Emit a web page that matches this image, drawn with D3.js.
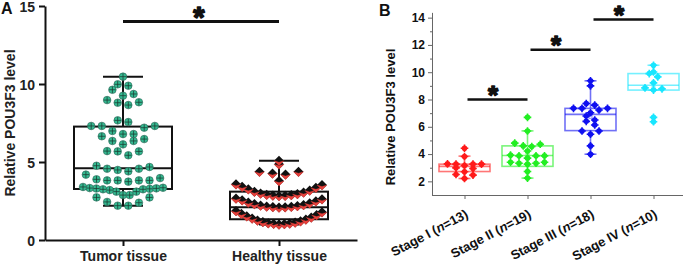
<!DOCTYPE html>
<html>
<head>
<meta charset="utf-8">
<script src="https://cdn.jsdelivr.net/npm/d3@7"></script>
<style>
  body { margin: 0; background: #fff; }
  svg { display: block; font-family: "Liberation Sans", Arial, sans-serif; }
  .lbl { font-weight: bold; fill: #222; }
  .star { font-weight: bold; fill: #111; stroke: #111; stroke-width: 1.5; stroke-linejoin: round; }
</style>
</head>
<body>
<div id="chart"></div>
<script>
// ---- panel A data ----
const groupsA = ['Tumor tissue', 'Healthy tissue'];
const tumorValues = [
  10.47, 9.89, 9.98, 9.25, 9.36, 9.63, 8.65, 8.8, 8.83, 8.97,
  7.2, 7.31, 7.31, 7.31, 7.56, 7.67, 6.65, 6.79, 6.79, 6.99,
  6.13, 6.35, 6.35, 6.47, 5.43, 5.68, 5.68, 5.7,
  4.19, 4.4, 4.49, 4.57, 4.57, 4.68, 4.76,
  3.74, 3.82, 3.82, 3.82, 3.82, 3.89, 3.97,
  2.88, 2.88, 3.1, 3.1, 3.2, 3.25, 3.25, 3.28, 3.3, 3.31, 3.33, 3.35, 3.4,
  2.2, 2.2, 2.39, 2.44, 2.73, 2.73
];
const healthyValues = [
  5.08, 4.85, 4.38, 4.38, 4.27, 4.2, 3.78,
  2.82, 2.83, 2.85, 2.88, 2.9, 2.95, 2.98, 3.05, 3.1, 3.18, 3.25, 3.35, 3.42, 3.52, 3.57,
  2.08, 2.1, 2.11, 2.13, 2.15, 2.18, 2.21, 2.25, 2.3, 2.35, 2.4, 2.48, 2.55, 2.62, 2.66,
  1.0, 1.02, 1.04, 1.06, 1.08, 1.12, 1.15, 1.2, 1.25, 1.32, 1.38, 1.45, 1.52, 1.6, 1.68, 1.78, 1.86
];
const medianA = [4.6, 2.1];
const q1A = [3.27, 1.33];
const q3A = [7.27, 3.1];
const whiskerLowA = [2.2, 1.0];
const whiskerHighA = [10.47, 5.08];
const ticksA = [0, 5, 10, 15];
const sigA = 14;

// ---- panel B data ----
const stageNames = ['Stage I', 'Stage II', 'Stage III', 'Stage IV'];
const stageN = [13, 19, 18, 10];
const stage1 = [4.43, 3.82, 3.26, 2.99, 2.7, 3.28, 2.5, 3.26, 2.21, 3.16, 2.46, 3.26, 2.94];
const stage2 = [6.69, 5.69, 4.72, 4.55, 4.8, 4.6, 4.23, 3.26, 3.87, 3.87, 3.4, 3.33, 3.33, 3.4, 3.7, 3.87, 3.92, 2.72, 2.24];
const stage3 = [9.37, 9.0, 7.71, 7.35, 7.35, 7.23, 7.35, 7.59, 6.79, 7.03, 6.4, 6.5, 6.13, 5.69, 5.69, 5.45, 4.6, 3.99];
const stage4 = [10.51, 10.02, 9.9, 9.66, 9.22, 8.78, 8.69, 8.85, 6.69, 6.37];
const medianB = [3.1, 3.9, 6.91, 9.05];
const q1B = [2.72, 3.1, 5.72, 8.69];
const q3B = [3.26, 4.6, 7.35, 9.9];
const whiskerLowB = [2.21, 2.24, 3.99, 8.69];
const whiskerHighB = [3.85, 5.7, 9.37, 10.51];
const colorsB = ['#ff1a1a', '#22ee22', '#1010f0', '#19e6ff'];
const ticksB = [2, 4, 6, 8, 10, 12, 14];
const sigB = [8.0, 11.65, 13.87];   // bars between neighbouring stages

const W = 685, H = 264;
const svg = d3.select('#chart').append('svg').attr('width', W).attr('height', H);

// arrange points in horizontal rows, lowest value in the middle of each row
function rowLayout(values, center, o) {
  const sorted = values.slice().sort((a, b) => a - b);
  const rows = [];
  let cur = [];
  sorted.forEach(v => {
    if (cur.length && (v - cur[0] > o.span || v - cur[cur.length - 1] > o.gap)) { rows.push(cur); cur = []; }
    cur.push(v);
  });
  if (cur.length) rows.push(cur);
  const out = [];
  rows.forEach(r => {
    const n = r.length;
    const s = n > 1 ? Math.min(o.step, o.maxWidth / (n - 1)) : 0;
    const slots = d3.range(n).map(k => (k - (n - 1) / 2) * s)
      .sort((a, b) => Math.abs(a) - Math.abs(b) || b - a);
    r.forEach((v, i) => out.push({ v: v, x: center + slots[i] }));
  });
  return out;
}

// ================= Panel A =================
const xA = d3.scalePoint().domain(groupsA).range([45, 357]).padding(0.5);
const yA = d3.scaleLinear().domain([0, 15]).range([240, 6]);

const gA = svg.append('g');

// axes
gA.append('g')
  .attr('transform', 'translate(45,0)')
  .call(d3.axisLeft(yA).tickValues(ticksA).tickSize(6).tickSizeOuter(0).tickPadding(4))
  .call(g => g.selectAll('path,line').attr('stroke', '#111').attr('stroke-width', 2))
  .call(g => g.selectAll('text').attr('class', 'lbl').style('font-size', '14px').attr('dy', '0.4em'));

gA.append('g')
  .attr('transform', 'translate(0,240)')
  .call(d3.axisBottom(xA).tickSize(6).tickSizeOuter(0).tickPadding(5))
  .call(g => g.selectAll('path,line').attr('stroke', '#111').attr('stroke-width', 2))
  .call(g => g.selectAll('text').attr('class', 'lbl').style('font-size', '14px'));

gA.append('text').attr('class', 'lbl')
  .attr('transform', 'translate(15,123) rotate(-90)')
  .attr('text-anchor', 'middle').style('font-size', '14px')
  .text('Relative POU3F3 level');

gA.append('text').attr('class', 'lbl').attr('x', 1).attr('y', 14)
  .style('font-size', '16px').style('fill', '#111').text('A');

// boxes
groupsA.forEach((g, i) => {
  const cx = xA(g), bw = 98, cw = 40;
  const b = gA.append('g').attr('stroke', '#111').attr('stroke-width', 2).attr('fill', 'none');
  b.append('line').attr('x1', cx).attr('x2', cx).attr('y1', yA(whiskerHighA[i])).attr('y2', yA(q3A[i]));
  b.append('line').attr('x1', cx).attr('x2', cx).attr('y1', yA(q1A[i])).attr('y2', yA(whiskerLowA[i]));
  b.append('line').attr('x1', cx - cw / 2).attr('x2', cx + cw / 2).attr('y1', yA(whiskerHighA[i])).attr('y2', yA(whiskerHighA[i]));
  b.append('line').attr('x1', cx - cw / 2).attr('x2', cx + cw / 2).attr('y1', yA(whiskerLowA[i])).attr('y2', yA(whiskerLowA[i]));
  b.append('rect').attr('x', cx - bw / 2).attr('width', bw)
    .attr('y', yA(q3A[i])).attr('height', yA(q1A[i]) - yA(q3A[i]));
  b.append('line').attr('x1', cx - bw / 2).attr('x2', cx + bw / 2).attr('y1', yA(medianA[i])).attr('y2', yA(medianA[i]));
});

// tumor points: green circles with a cross
const tumorPts = rowLayout(tumorValues, xA(groupsA[0]), { span: 0.58, gap: 0.3, step: 10.6, maxWidth: 80 });
const tp = gA.selectAll('.tp').data(tumorPts).enter().append('g')
  .attr('transform', d => `translate(${d.x},${yA(d.v)})`);
tp.append('circle').attr('r', 3.8).attr('fill', '#34bb92').attr('stroke', '#2a5e50').attr('stroke-width', 0.6);
tp.append('path').attr('d', 'M-3.3,0H3.3M0,-3.3V3.3').attr('stroke', '#1c3d33').attr('stroke-width', 0.8);

// healthy points: diamonds, black top half, red bottom half
const healthyPts = rowLayout(healthyValues, xA(groupsA[1]), { span: 0.9, gap: 0.14, step: 13, maxWidth: 86 });
const hp = gA.selectAll('.hp').data(healthyPts).enter().append('g')
  .attr('transform', d => `translate(${d.x},${yA(d.v)})`);
hp.append('path').attr('d', 'M0,-5L5,0L0,5L-5,0Z').attr('fill', '#111');
hp.append('path').attr('d', 'M-5,0L0,5L5,0L0,1.5Z').attr('fill', '#e8413c').attr('stroke', '#e8413c').attr('stroke-width', 0.3);

// significance
gA.append('line').attr('x1', xA(groupsA[0])).attr('x2', xA(groupsA[1]))
  .attr('y1', yA(sigA)).attr('y2', yA(sigA)).attr('stroke', '#111').attr('stroke-width', 3);
gA.append('text').attr('class', 'star')
  .attr('x', (xA(groupsA[0]) + xA(groupsA[1])) / 2 - 2).attr('y', yA(sigA) + 5.8)
  .attr('text-anchor', 'middle').style('font-size', '29px').text('*');

// ================= Panel B =================
const xB = d3.scalePoint().domain(stageNames).range([433, 685]).padding(0.5);
const yB = d3.scaleLinear().domain([1, 15]).range([195, 4]);
const seriesB = [stage1, stage2, stage3, stage4];

const gB = svg.append('g');

gB.append('g')
  .attr('transform', 'translate(432,0)')
  .call(d3.axisLeft(yB).tickValues(d3.range(3, 15, 2)).tickSize(2).tickFormat('').tickSizeOuter(0))
  .call(g => g.select('.domain').remove())
  .call(g => g.selectAll('line').attr('stroke', '#666').attr('stroke-width', 1));
gB.append('g')
  .attr('transform', 'translate(432,0)')
  .call(d3.axisLeft(yB).tickValues(ticksB).tickSize(4).tickSizeOuter(0).tickPadding(3))
  .call(g => g.select('.domain').attr('d', `M0.5,${yB(14.35)}V${yB(1)}`))
  .call(g => g.selectAll('path,line').attr('stroke', '#666').attr('stroke-width', 1))
  .call(g => g.selectAll('text').attr('class', 'lbl').style('fill', '#111').style('font-size', '12px'));

const xAxisB = gB.append('g')
  .attr('transform', 'translate(0,195)')
  .call(d3.axisBottom(xB).tickSize(4).tickSizeOuter(0))
  .call(g => g.select('.domain').attr('d', 'M432,0.5H683'))
  .call(g => g.selectAll('path,line').attr('stroke', '#666').attr('stroke-width', 1));

// tick labels: "Stage I (n=13)" with italic n, slanted
xAxisB.selectAll('.tick text').each(function(d, i) {
  const t = d3.select(this).text(null)
    .attr('class', 'lbl').style('fill', '#111').style('font-size', '13px')
    .attr('text-anchor', 'end').attr('x', 0).attr('y', 0).attr('dy', 0)
    .attr('transform', 'translate(4,22) rotate(-28)');
  t.append('tspan').text(d + ' (');
  t.append('tspan').style('font-style', 'italic').text('n');
  t.append('tspan').text('=' + stageN[i] + ')');
});

gB.append('text').attr('class', 'lbl')
  .attr('transform', 'translate(395,117) rotate(-90)')
  .attr('text-anchor', 'middle').style('font-size', '13px').style('fill', '#111')
  .text('Relative POU3F3 level');

gB.append('text').attr('class', 'lbl').attr('x', 379).attr('y', 16)
  .style('font-size', '16px').style('fill', '#111').text('B');

seriesB.forEach((vals, i) => {
  const cx = xB(stageNames[i]), bw = 51, cw = 12, col = colorsB[i];
  const b = gB.append('g').attr('stroke', col).attr('stroke-opacity', 0.6).attr('stroke-width', 1.6).attr('fill', 'none');
  b.append('line').attr('x1', cx).attr('x2', cx).attr('y1', yB(whiskerHighB[i])).attr('y2', yB(q3B[i]));
  b.append('line').attr('x1', cx).attr('x2', cx).attr('y1', yB(q1B[i])).attr('y2', yB(whiskerLowB[i]));
  b.append('line').attr('x1', cx - cw / 2).attr('x2', cx + cw / 2).attr('y1', yB(whiskerHighB[i])).attr('y2', yB(whiskerHighB[i]));
  b.append('line').attr('x1', cx - cw / 2).attr('x2', cx + cw / 2).attr('y1', yB(whiskerLowB[i])).attr('y2', yB(whiskerLowB[i]));
  b.append('rect').attr('x', cx - bw / 2).attr('width', bw)
    .attr('y', yB(q3B[i])).attr('height', yB(q1B[i]) - yB(q3B[i]));
  b.append('line').attr('x1', cx - bw / 2).attr('x2', cx + bw / 2).attr('y1', yB(medianB[i])).attr('y2', yB(medianB[i]));
  // mean marker
  const m = d3.mean(vals);
  b.append('rect').attr('x', cx - 1.5).attr('y', yB(m) - 1.5).attr('width', 3).attr('height', 3).attr('stroke-width', 0.8);

  const pts = rowLayout(vals, cx, { span: 0.35, gap: 0.3, step: 8.5, maxWidth: 46 });
  const p = gB.selectAll('.pb' + i).data(pts).enter().append('g')
    .attr('transform', d => `translate(${d.x},${yB(d.v)})`);
  p.append('circle').attr('r', 2.8).attr('fill', col);
  p.append('path').attr('d', 'M-3.8,0H3.8M0,-3.8V3.8').attr('stroke', col).attr('stroke-width', 1.6);
});

// significance bars between neighbouring stages
sigB.forEach((v, i) => {
  const x1 = xB(stageNames[i]), x2 = xB(stageNames[i + 1]);
  gB.append('line').attr('x1', x1 + 3).attr('x2', x2).attr('y1', yB(v)).attr('y2', yB(v))
    .attr('stroke', '#111').attr('stroke-width', 2.5);
  gB.append('text').attr('class', 'star')
    .attr('x', (x1 + x2) / 2 - 3).attr('y', yB(v) + 4.5)
    .attr('text-anchor', 'middle').style('font-size', '26px').text('*');
});
</script>
</body>
</html>
